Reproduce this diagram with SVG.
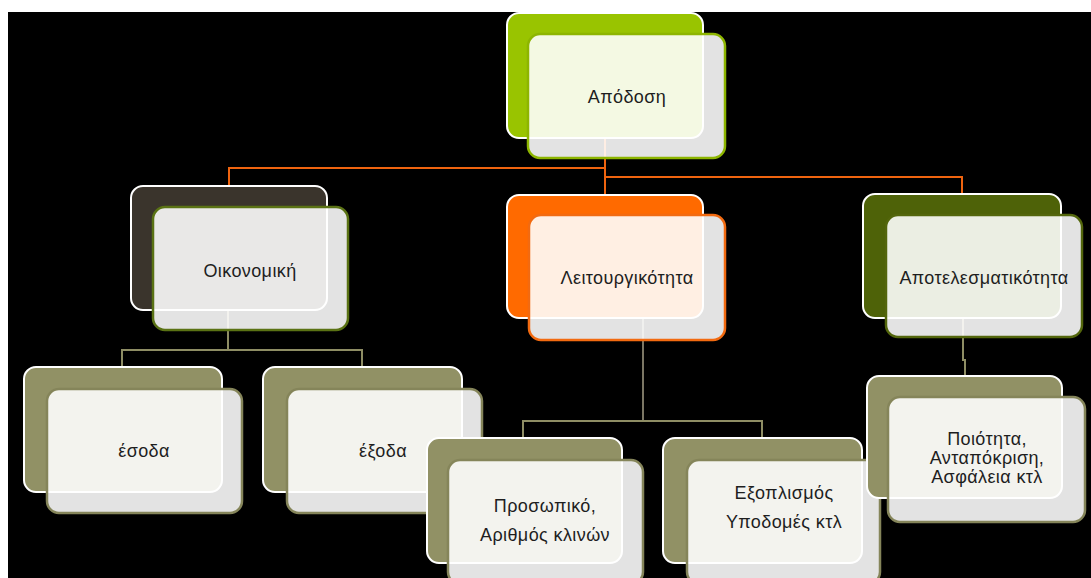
<svg xmlns="http://www.w3.org/2000/svg" width="1091" height="578" viewBox="0 0 1091 578">
  <style>
    .back { stroke: #ffffff; stroke-width: 2; }
    .front { fill: #ffffff; fill-opacity: 0.89; stroke-width: 2.5; }
    .lbl { font-family: "Liberation Sans", Arial, sans-serif; font-size: 18px; letter-spacing: 0.4px; fill: #1e1e1e; text-anchor: middle; }
    .wire { fill: none; stroke-width: 2; }
    .orange { stroke: #ef640f; }
    .olive { stroke: #8e8d64; }
    .grey { stroke: #7b7664; }
  </style>
  <rect x="0" y="0" width="1091" height="578" fill="#ffffff"/>
  <rect x="8" y="12" width="1083" height="566" fill="#000000"/>

  <!-- connectors -->
  <g id="connectors">
    <path class="wire orange" d="M605,138 V168 H229 V187"/>
    <path class="wire orange" d="M605,168 V196"/>
    <path class="wire orange" d="M605,177 H962 V195"/>
    <path class="wire olive" d="M228,310 V350 H122 V368"/>
    <path class="wire olive" d="M228,350 H362 V368"/>
    <path class="wire grey" d="M643,318 V421"/>
    <path class="wire olive" d="M643,421 H523 V439"/>
    <path class="wire olive" d="M643,421 H762 V439"/>
    <path class="wire olive" d="M963,318 V360 H965 V377"/>
  </g>

  <!-- root -->
  <g id="node-apodosi">
    <rect class="back" x="507" y="13" width="196" height="125" rx="12" fill="#99c400"/>
    <rect class="front" x="528" y="34" width="197" height="124" rx="12" stroke="#8db500"/>
    <text class="lbl" x="627" y="103">Απόδοση</text>
  </g>

  <!-- second level -->
  <g id="node-oikonomiki">
    <rect class="back" x="131" y="186" width="196" height="124" rx="12" fill="#3a342c"/>
    <rect class="front" x="153" y="207" width="195" height="123" rx="12" stroke="#5a7214"/>
    <text class="lbl" x="250" y="277">Οικονομική</text>
  </g>

  <g id="node-leitourgikotita">
    <rect class="back" x="507" y="195" width="196" height="123" rx="12" fill="#ff6a00"/>
    <rect class="front" x="529" y="215" width="196" height="125" rx="12" stroke="#f26a10"/>
    <text class="lbl" x="627" y="284">Λειτουργικότητα</text>
  </g>

  <g id="node-apotelesmatikotita">
    <rect class="back" x="863" y="194" width="198" height="124" rx="12" fill="#4e6208"/>
    <rect class="front" x="886" y="215" width="196" height="122" rx="12" stroke="#53660c"/>
    <text class="lbl" x="984" y="284">Αποτελεσματικότητα</text>
  </g>

  <!-- third level -->
  <g id="node-esoda">
    <rect class="back" x="24" y="367" width="198" height="125" rx="12" fill="#919165"/>
    <rect class="front" x="47" y="389" width="195" height="124" rx="12" stroke="#85855a"/>
    <text class="lbl" x="144" y="457">έσοδα</text>
  </g>

  <g id="node-exoda">
    <rect class="back" x="263" y="367" width="199" height="125" rx="12" fill="#919165"/>
    <rect class="front" x="287" y="389" width="195" height="124" rx="12" stroke="#85855a"/>
    <text class="lbl" x="383" y="457">έξοδα</text>
  </g>

  <g id="node-prosopiko">
    <rect class="back" x="427" y="438" width="195" height="125" rx="12" fill="#919165"/>
    <rect class="front" x="448" y="460" width="195" height="124" rx="12" stroke="#85855a"/>
    <text class="lbl" x="545" y="512">Προσωπικό,</text>
    <text class="lbl" x="545" y="541">Αριθμός κλινών</text>
  </g>

  <g id="node-exoplismos">
    <rect class="back" x="663" y="438" width="199" height="125" rx="12" fill="#919165"/>
    <rect class="front" x="687" y="460" width="193" height="124" rx="12" stroke="#85855a"/>
    <text class="lbl" x="784" y="499">Εξοπλισμός</text>
    <text class="lbl" x="784" y="528">Υποδομές κτλ</text>
  </g>

  <g id="node-poiotita">
    <rect class="back" x="867" y="376" width="195" height="122" rx="12" fill="#919165"/>
    <rect class="front" x="888" y="397" width="197" height="125" rx="12" stroke="#85855a"/>
    <text class="lbl" x="987" y="445">Ποιότητα,</text>
    <text class="lbl" x="987" y="464">Ανταπόκριση,</text>
    <text class="lbl" x="987" y="483">Ασφάλεια κτλ</text>
  </g>
</svg>
